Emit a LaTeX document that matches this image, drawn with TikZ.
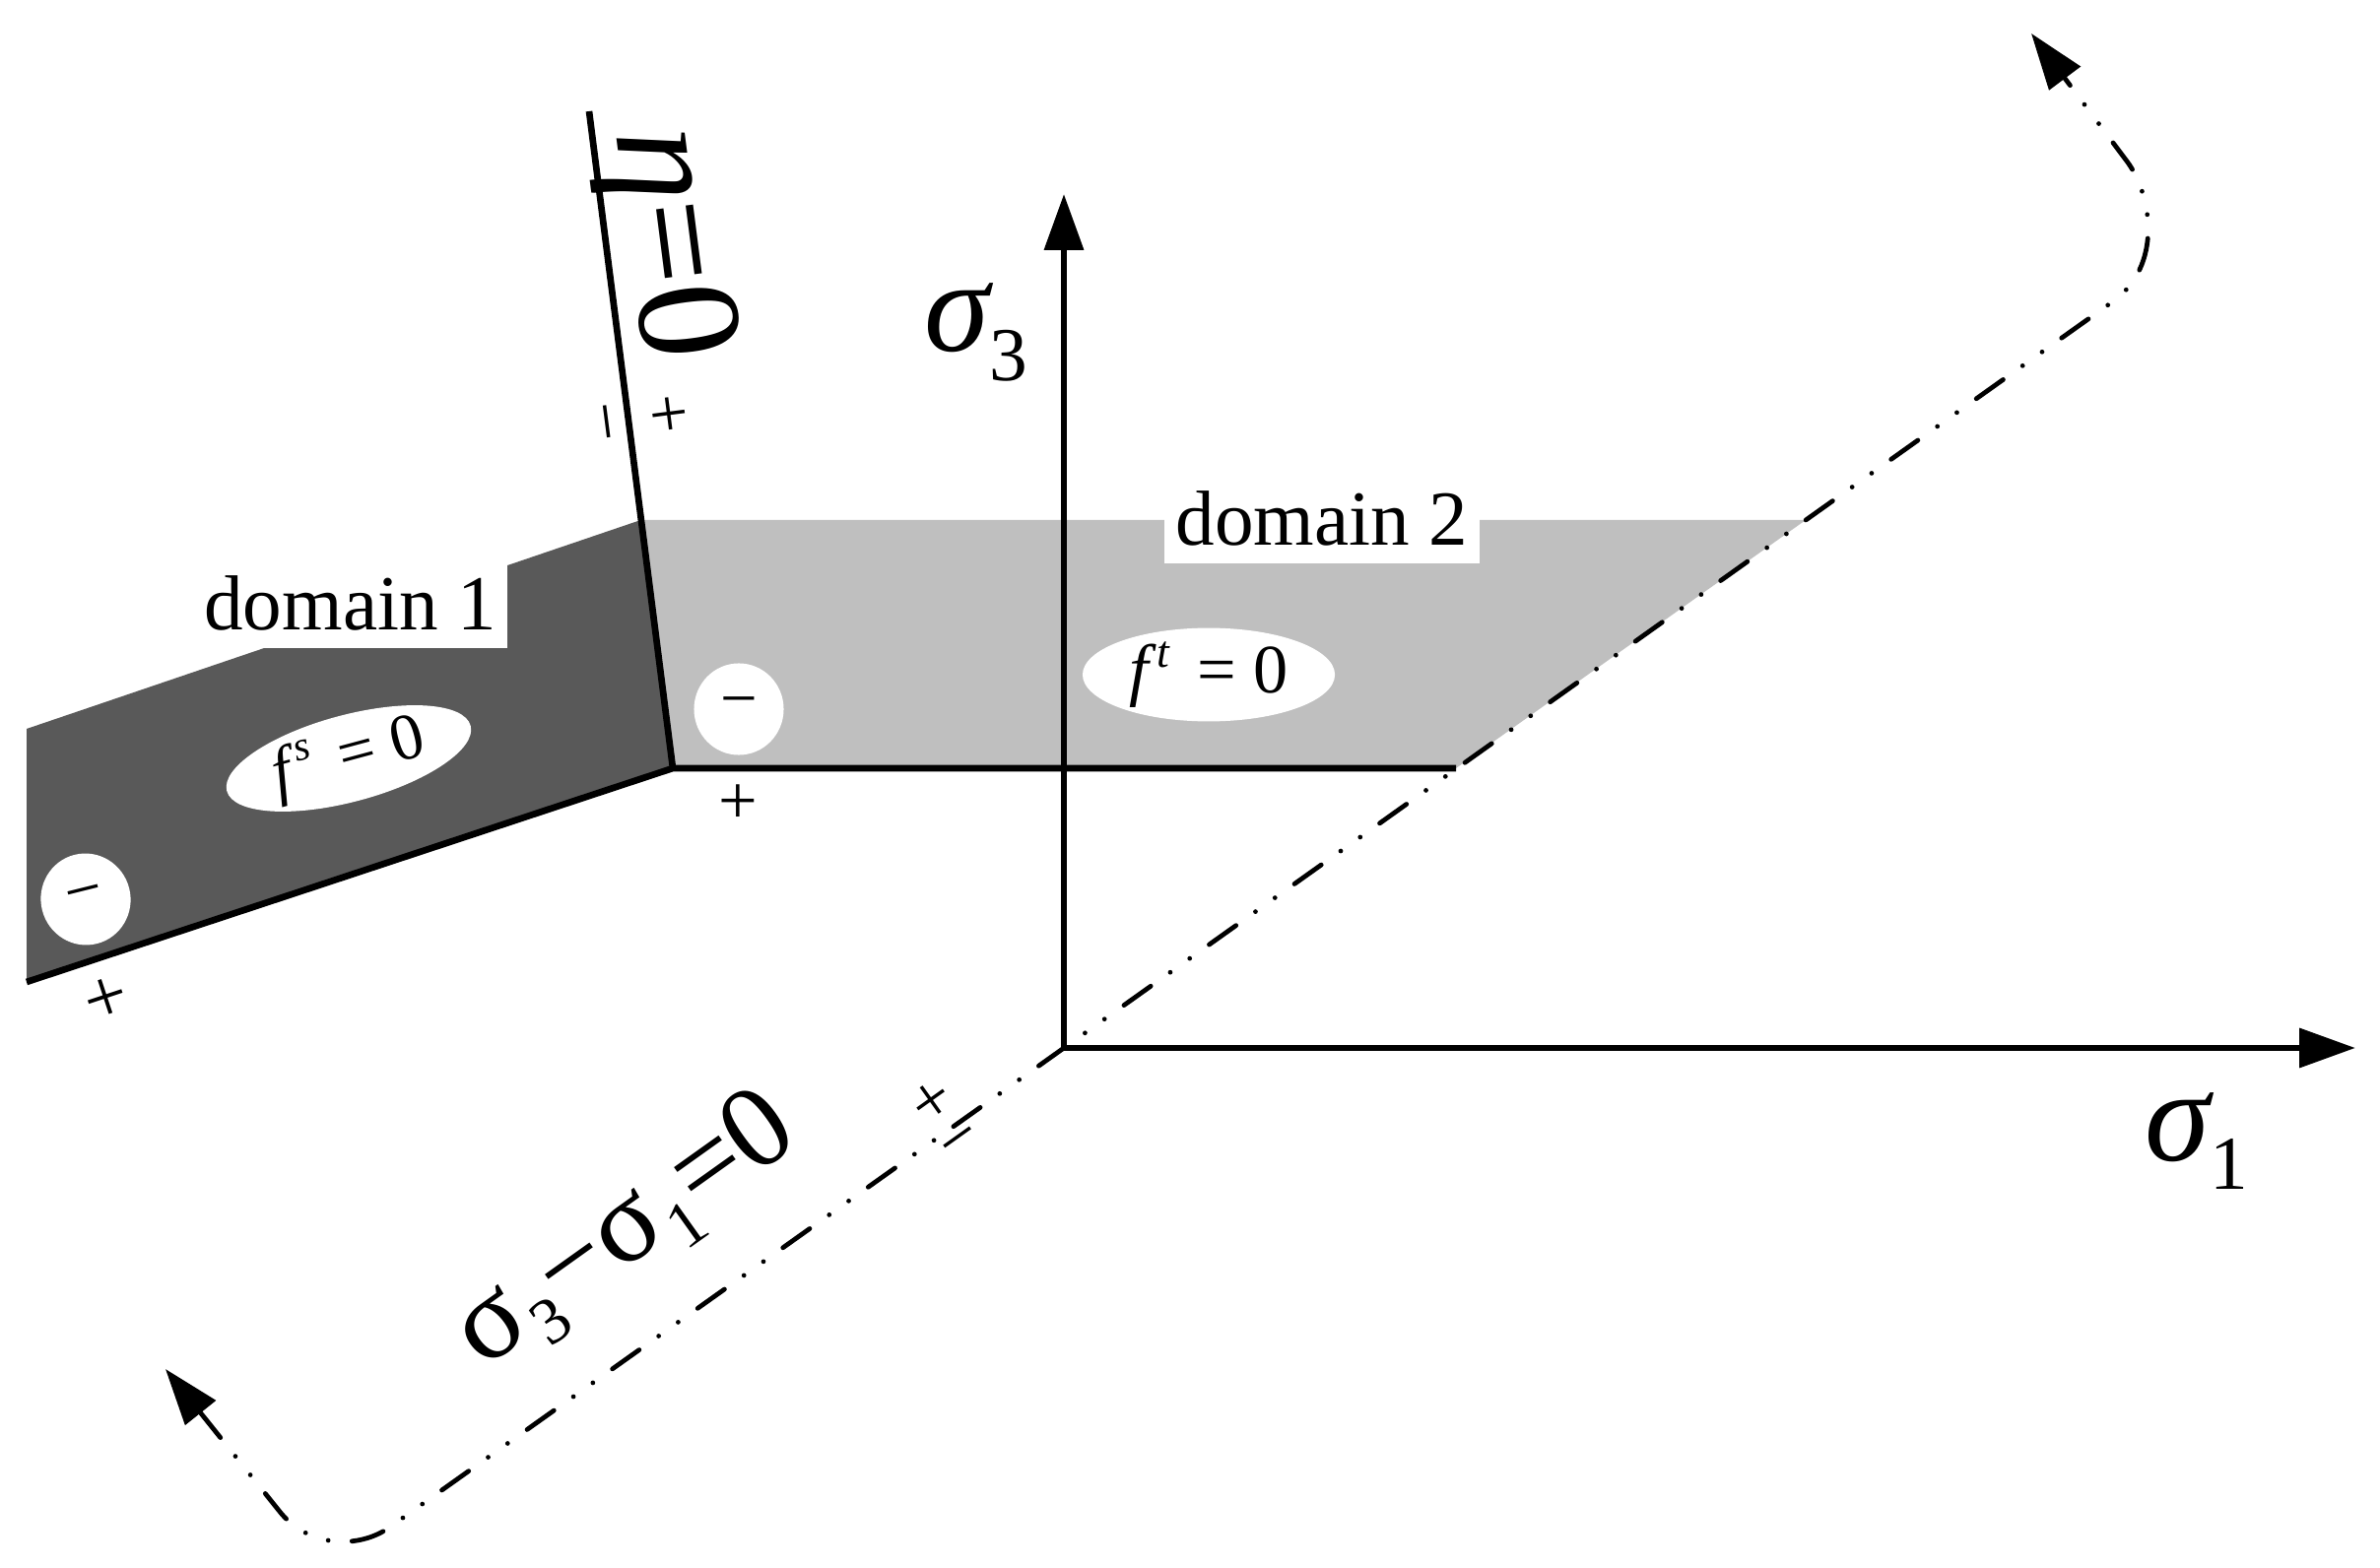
\documentclass[tikz,border=0pt]{standalone}
\usepackage{fontspec}
\setmainfont{Liberation Serif}
\usetikzlibrary{arrows.meta,shapes.geometric}
\begin{document}
\begin{tikzpicture}[x=0.01cm,y=-0.01cm,
  edgeline/.style={line width=1.9pt,line join=miter},
  axisline/.style={line width=1.9pt,-{Triangle[length=16.2pt,width=11.1pt]}},
  ddline/.style={line width=1.35pt,line cap=round,
    dash pattern=on 9.5pt off 6.9pt on 0pt off 6.9pt on 0pt off 6.9pt,
    {Triangle[length=16.2pt,width=11.1pt]}-{Triangle[length=16.2pt,width=11.1pt]}},
  biglbl/.style={inner sep=0pt,font=\fontsize{38}{38}\selectfont},
  sgn/.style={inner sep=0pt,font=\fontsize{20}{20}\selectfont},
  dombox/.style={fill=white,inner xsep=3.2pt,inner ysep=5.4pt,text depth=0pt,
    font=\fontsize{22.5}{22.5}\selectfont},
  oval/.style={ellipse,fill=white,inner sep=0pt},
  darkreg/.style={fill=black!65},
  lightreg/.style={fill=black!25},
]
\useasboundingbox[fill=white] (0,0) rectangle (2416,1592);

% key points
\coordinate (O) at (1080,1064);
\coordinate (T3) at (1080,197);
\coordinate (T1) at (2391,1064);
\coordinate (Etop) at (598,113);
\coordinate (J) at (683,780);
\coordinate (Ea) at (650.5,528);
\coordinate (D1tl) at (27,740);
\coordinate (D1bl) at (27,997);
\coordinate (D2tr) at (1833,528);
\coordinate (D2br) at (1478,780);

% regions
\fill[darkreg] (Ea) -- (D1tl) -- (D1bl) -- (J) -- cycle;
\fill[lightreg] (Ea) -- (D2tr) -- (D2br) -- (J) -- cycle;

% labels with white boxes
\node[dombox,anchor=south east] (d1) at (516,659) {domain 1};
\node[dombox,anchor=south] (d2) at (1342,573) {domain 2};

% ellipses
\node[oval,minimum width=2.56cm,minimum height=0.88cm,rotate=15,
  font=\fontsize{19}{19}\selectfont] (fs) at (354,770)
  {{\itshape f}\hspace{0.12em}\raisebox{7.5pt}{\fontsize{12}{12}\selectfont\itshape s}\hspace{0.4em}=\hspace{0.25em}0};
\node[oval,minimum width=2.56cm,minimum height=0.92cm,
  font=\fontsize{20}{20}\selectfont] (ft) at (1227,685)
  {{\itshape f}\hspace{0.12em}\raisebox{7.5pt}{\fontsize{13}{13}\selectfont\itshape t}\hspace{0.4em}=\hspace{0.25em}0};
\node[oval,minimum width=0.91cm,minimum height=0.93cm,rotate=14,
  font=\fontsize{19}{19}\selectfont] (m1) at (87,913) {−};
\node[oval,minimum width=0.91cm,minimum height=0.93cm,
  font=\fontsize{19}{19}\selectfont] (m2) at (750,720) {−};

% boundary lines
\draw[edgeline] (D1bl) -- (J) -- (D2br);
\draw[edgeline] (Etop) -- (J);

% axes
\draw[axisline] (O) -- (T3);
\draw[axisline] (O) -- (T1);

% sigma3 - sigma1 = 0 line
\coordinate (A1) at (168,1390);
\coordinate (A2) at (2062,34);
\draw[ddline] (A1) -- (285,1536) .. controls (315,1572) and (365,1572) .. (395,1551)
  -- (O) -- (2145,306) .. controls (2195,270) and (2185,200) .. (2160,165) -- (A2);

% axis labels
\node[biglbl,anchor=base west] (s3) at (938,357)
  {{\itshape σ}\raisebox{-8.5pt}{\fontsize{22}{22}\selectfont 3}};
\node[biglbl,anchor=base west] (s1) at (2177,1178)
  {{\itshape σ}\raisebox{-8.5pt}{\fontsize{22}{22}\selectfont 1}};

% eta = 0
\node[inner sep=0pt,rotate=-82.7,font=\fontsize{43}{43}\selectfont] (eta) at (674,248) {{\itshape η}=0};

% sigma3-sigma1=0
\node[inner sep=0pt,rotate=35.5,font=\fontsize{34}{34}\selectfont] (s31) at (636,1252)
  {σ\hspace{0.03em}\raisebox{-6pt}{\fontsize{19}{19}\selectfont 3}−σ\hspace{0.03em}\raisebox{-6pt}{\fontsize{19}{19}\selectfont 1}=0};

% signs
\node[sgn,rotate=-82.7] (em) at (605,430) {−};
\node[sgn,rotate=-82.7] (ep) at (676,421) {+};
\node[sgn] (jp) at (749,817) {+};
\node[sgn,rotate=18.3,font=\fontsize{22}{22}\selectfont] (bp) at (108,1016) {+};
\node[sgn,rotate=35.5] (lp) at (947,1120) {+};
\node[sgn,rotate=35.5] (lm) at (978,1164) {−};
\end{tikzpicture}
\end{document}
